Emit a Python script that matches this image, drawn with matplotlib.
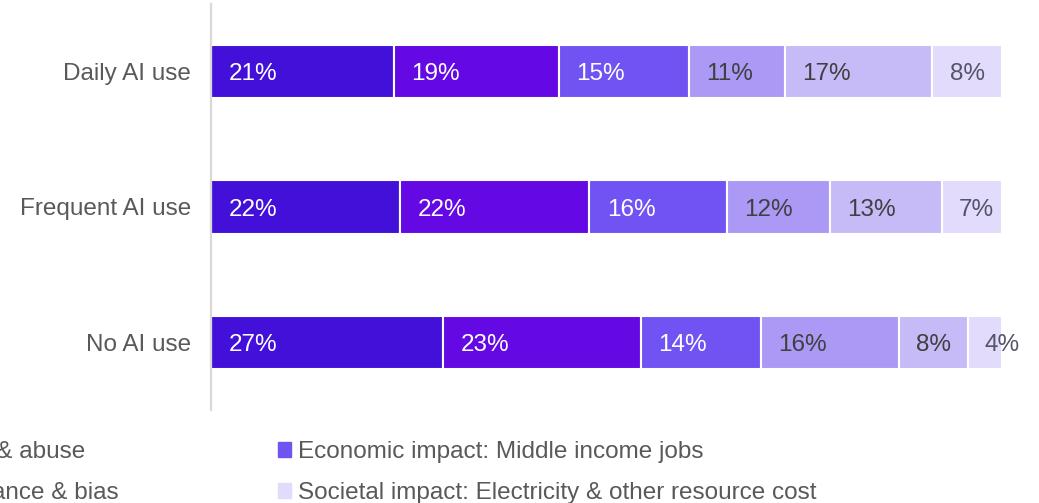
import numpy as np
import matplotlib.pyplot as plt
from matplotlib.patches import Rectangle

plt.rcParams['font.family'] = ['Liberation Sans', 'DejaVu Sans']

# Survey shares by AI usage group (labels show the raw percentages)
groups = ["Daily AI use", "Frequent AI use", "No AI use"]
series = [
    "Economic impact: Entry-level jobs",
    "Societal impact: Misuse & abuse",
    "Economic impact: Middle income jobs",
    "Economic impact: High income jobs",
    "Societal impact: Surveillance & bias",
    "Societal impact: Electricity & other resource cost",
]
values = np.array([
    [21, 19, 15, 11, 17, 8],
    [22, 22, 16, 12, 13, 7],
    [27, 23, 14, 16, 8, 4],
])
colors = ["#4210D9", "#6408E4", "#7152F3", "#AB99F5", "#C7BBF7", "#E2DBFC"]
label_colors = ["white", "white", "white", "#404040", "#404040", "#55556a"]

FS = 17.5

fig = plt.figure(figsize=(10.39, 5.03), dpi=100)
ax = fig.add_axes([211 / 1039, 1 - 410 / 503, (1002 - 211) / 1039, (410 - 4) / 503])

# 100% stacked bars: each row is normalised to its own total
shares = values / values.sum(axis=1, keepdims=True) * 100
y = np.arange(len(groups))
left = np.zeros(len(groups))
for i in range(len(series)):
    ax.barh(y, shares[:, i], left=left, height=0.395, color=colors[i],
            edgecolor="white", linewidth=1.5)
    for j in range(len(groups)):
        ax.annotate(f"{values[j, i]}%", xy=(left[j], y[j]), xytext=(12.5, -1.8),
                    textcoords="offset points", ha="left", va="center",
                    fontsize=FS, color=label_colors[i], annotation_clip=False)
    left += shares[:, i]

ax.set_xlim(0, 100)
ax.set_ylim(-0.5, len(groups) - 0.5)
ax.invert_yaxis()
ax.set_yticks(y)
ax.set_yticklabels(groups, fontsize=FS, color="#595959")
ax.tick_params(axis="y", length=0, pad=14.5)
ax.set_xticks([])
for side in ["top", "right", "bottom"]:
    ax.spines[side].set_visible(False)
ax.spines["left"].set_color("#d9d9d9")
ax.spines["left"].set_linewidth(1.6)

# legend fills column by column, so order entries to read across rows
order = [0, 3, 1, 4, 2, 5]
handles = [Rectangle((0, 0), 1, 1, color=colors[k]) for k in order]
labels = [series[k] for k in order]
fig.legend(handles, labels, ncol=3, loc="upper right",
           bbox_to_anchor=(816 / 1039, 1 - 441 / 503),
           frameon=False, fontsize=FS, labelcolor="#595959",
           handlelength=0.55, handleheight=0.55, handletextpad=0.25,
           columnspacing=6.55, labelspacing=0.78, borderpad=0, borderaxespad=0)

fig.savefig("out.png", dpi=100)
